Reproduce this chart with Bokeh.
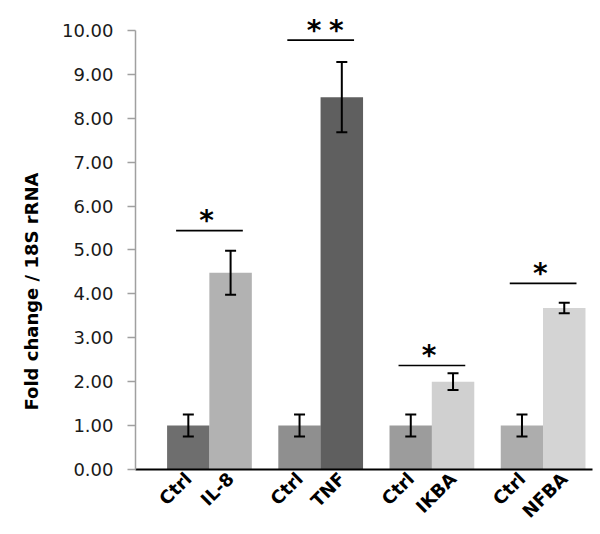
import math
from bokeh.plotting import figure
from bokeh.models import (ColumnDataSource, Range1d, FixedTicker, NumeralTickFormatter,
                          Whisker, TeeHead, Title)
from bokeh.core.properties import value
from bokeh.embed import file_html
from bokeh.resources import INLINE

# ---- data ----
groups = [0, 1, 2, 3]
bar_labels = ["Ctrl", "IL-8", "Ctrl", "TNF", "Ctrl", "IKBA", "Ctrl", "NFBA"]
bar_values = [1.00, 4.48, 1.00, 8.48, 1.00, 2.00, 1.00, 3.68]
bar_errors = [0.25, 0.50, 0.25, 0.80, 0.25, 0.19, 0.25, 0.12]
bar_colors = ["#6e6e6e", "#b2b2b2", "#8f8f8f", "#5f5f5f",
              "#9c9c9c", "#d0d0d0", "#adadad", "#d4d4d4"]
sig_levels = [5.44, 9.78, 2.37, 4.24]
sig_marks = [1, 2, 1, 1]
y_ticks = [0, 1, 2, 3, 4, 5, 6, 7, 8, 9, 10]

half = 0.19
bar_w = 0.382
xs = []
for g in groups:
    xs += [g - half, g + half]

src = ColumnDataSource(dict(
    x=xs, top=bar_values, color=bar_colors,
    upper=[v + e for v, e in zip(bar_values, bar_errors)],
    lower=[v - e for v, e in zip(bar_values, bar_errors)],
))

p = figure(width=600, height=534, output_backend="svg", toolbar_location=None,
           x_range=Range1d(-0.665, 3.444), y_range=Range1d(0, 10.5),
           min_border_left=135, min_border_right=8, min_border_top=8,
           min_border_bottom=65)
p.outline_line_color = None
p.grid.grid_line_color = None
p.background_fill_color = "white"

p.vbar(x="x", top="top", width=bar_w, bottom=0, color="color", line_color=None, source=src)

w = Whisker(base="x", upper="upper", lower="lower", source=src, level="overlay",
            line_color="black", line_width=2,
            upper_head=TeeHead(size=11, line_color="black", line_width=2),
            lower_head=TeeHead(size=11, line_color="black", line_width=2))
p.add_layout(w)

# significance lines and stars
p.segment(x0=[g - 0.30 for g in groups], x1=[g + 0.30 for g in groups],
          y0=sig_levels, y1=sig_levels, line_color="black", line_width=1.6)
star_x, star_y = [], []
for g, lvl, n in zip(groups, sig_levels, sig_marks):
    if n == 1:
        star_x.append(g - 0.025)
        star_y.append(lvl)
    else:
        star_x += [g - 0.06, g + 0.14]
        star_y += [lvl, lvl]
p.text(x=star_x, y=star_y, text=["*"] * len(star_x), text_align="center",
       text_baseline="alphabetic", text_font=value("DejaVu Sans"),
       text_font_style="bold", text_font_size="28px", text_color="black",
       y_offset=-10)

# y axis
ya = p.yaxis[0]
ya.ticker = FixedTicker(ticks=y_ticks)
ya.formatter = NumeralTickFormatter(format="0.00")
ya.bounds = (0, 10)
ya.axis_line_color = "#a0a0a0"
ya.axis_line_width = 1.5
ya.major_tick_line_color = "#a0a0a0"
ya.major_tick_line_width = 1.5
ya.major_tick_out = 8
ya.major_tick_in = 0
ya.minor_tick_line_color = None
ya.major_label_standoff = 14
ya.major_label_text_font = "DejaVu Sans"
ya.major_label_text_font_size = "18px"
ya.major_label_text_color = "#1a1a1a"

# y title as a left-side Title so it can be shifted along the axis
ytitle = Title(text="Fold change / 18S rRNA", align="left", offset=59,
               standoff=34, text_font="DejaVu Sans", text_font_style="bold",
               text_font_size="18px", text_color="black")
p.add_layout(ytitle, "left")

# x axis
xa = p.xaxis[0]
xa.ticker = FixedTicker(ticks=xs)
xa.major_label_overrides = {x: lab for x, lab in zip(xs, bar_labels)}
xa.major_label_orientation = math.pi / 4
xa.axis_line_color = "black"
xa.axis_line_width = 2
xa.major_tick_line_color = None
xa.major_tick_out = 0
xa.major_tick_in = 0
xa.minor_tick_line_color = None
xa.major_label_standoff = 6
xa.major_label_text_font = "DejaVu Sans"
xa.major_label_text_font_style = "bold"
xa.major_label_text_font_size = "18px"
xa.major_label_text_color = "black"

open("out.html", "w").write(file_html(p, INLINE))
